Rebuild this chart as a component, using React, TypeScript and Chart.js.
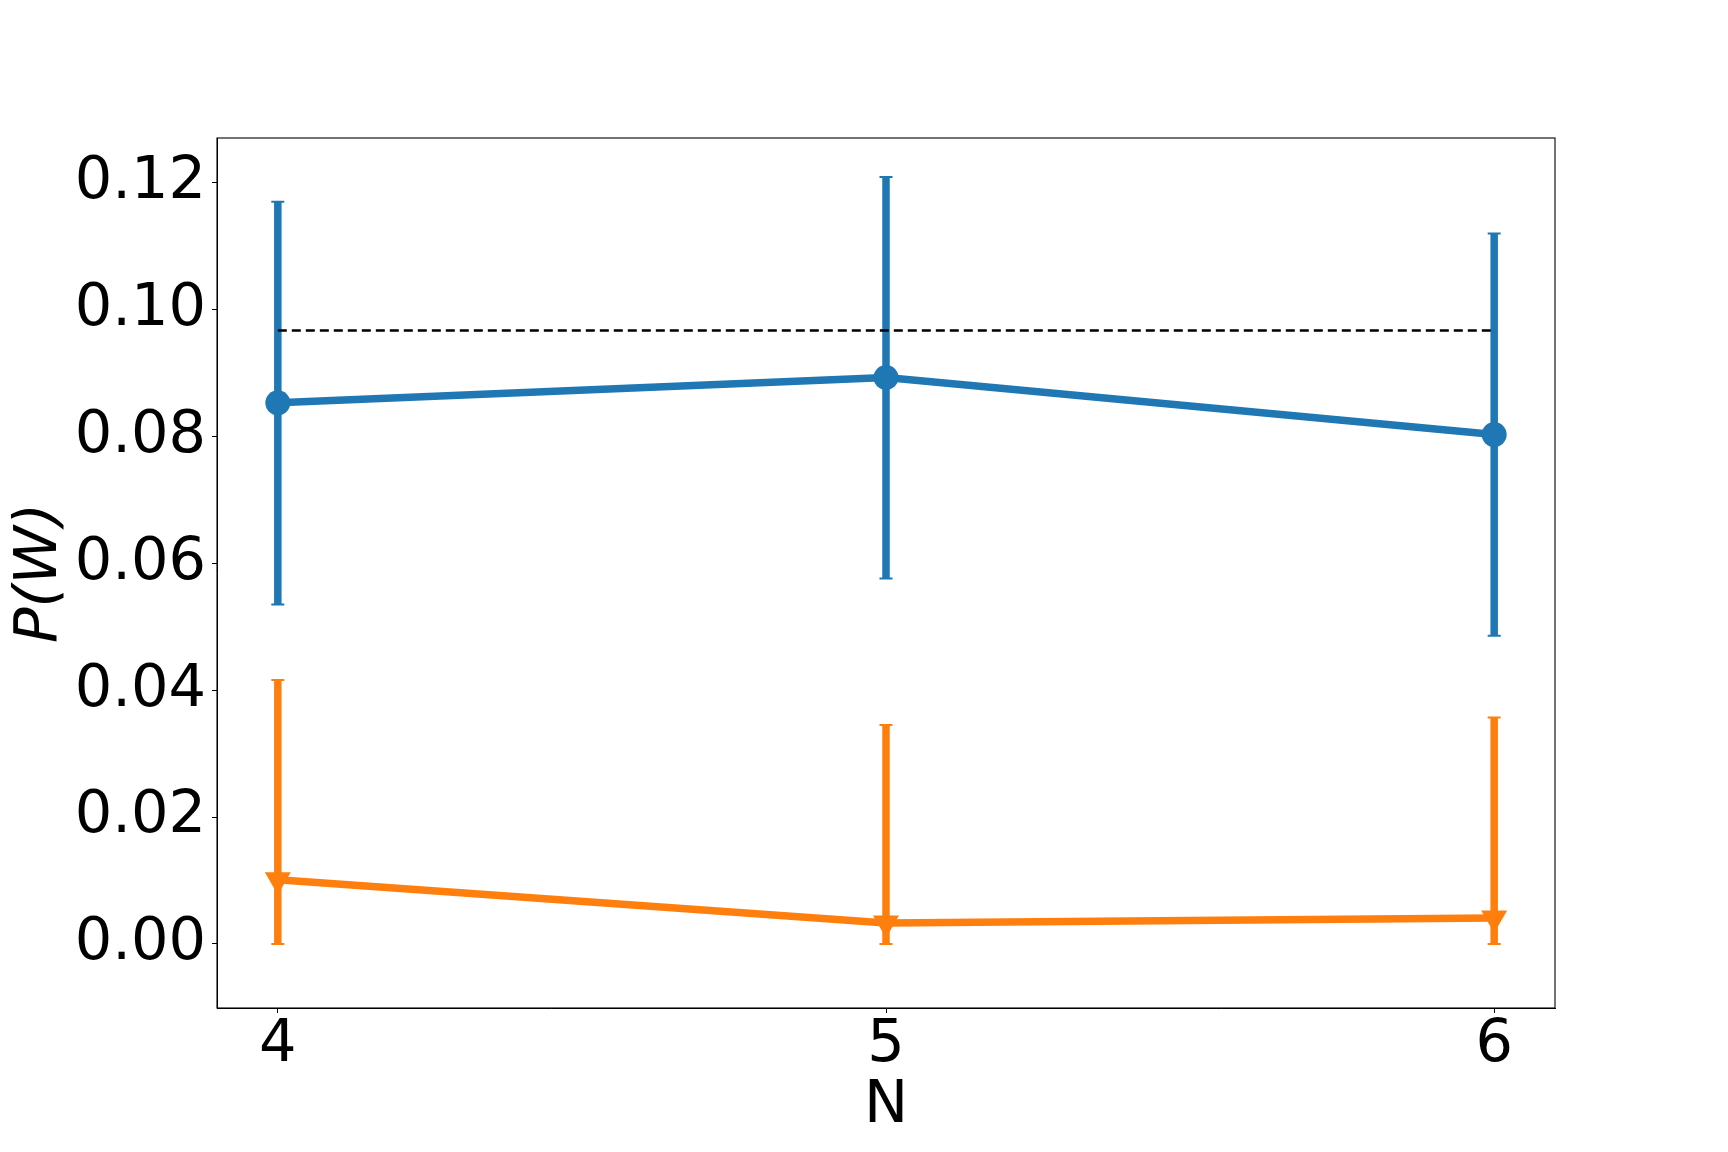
import React, { useEffect, useRef } from "react";
import { Chart, registerables } from "chart.js";

Chart.register(...registerables);

// ---- data ----
const nValues = [4, 5, 6];
const blueMean = [0.0853, 0.0893, 0.0803];
const blueLower = [0.0535, 0.0576, 0.0486];
const blueUpper = [0.117, 0.1209, 0.112];
const orangeMean = [0.0101, 0.0033, 0.0041];
const orangeLower = [0.0, 0.0, 0.0];
const orangeUpper = [0.0416, 0.0345, 0.0357];
const referenceLevel = 0.0967;
const xTickValues = [4, 5, 6];
const yTickValues = [0, 0.02, 0.04, 0.06, 0.08, 0.1, 0.12];
const xLabel = "N";
const yLabel = "P(W)";

const BLUE = "#1f77b4";
const ORANGE = "#ff7f0e";
const FONT = "'DejaVu Sans', sans-serif";

const errorBarPlugin = {
  id: "errorBars",
  beforeDatasetsDraw(chart: any) {
    const { ctx, scales } = chart;
    const x = scales.x;
    const y = scales.y;
    const draw = (lower: number[], upper: number[], color: string) => {
      ctx.save();
      ctx.strokeStyle = color;
      nValues.forEach((n, i) => {
        const px = x.getPixelForValue(n);
        const top = y.getPixelForValue(upper[i]);
        const bot = y.getPixelForValue(lower[i]);
        ctx.lineWidth = 7.5;
        ctx.lineCap = "butt";
        ctx.beginPath();
        ctx.moveTo(px, top);
        ctx.lineTo(px, bot);
        ctx.stroke();
        ctx.lineWidth = 2;
        ctx.beginPath();
        ctx.moveTo(px - 6.5, top);
        ctx.lineTo(px + 6.5, top);
        ctx.moveTo(px - 6.5, bot);
        ctx.lineTo(px + 6.5, bot);
        ctx.stroke();
      });
      ctx.restore();
    };
    draw(blueLower, blueUpper, BLUE);
    draw(orangeLower, orangeUpper, ORANGE);
  },
};

const framePlugin = {
  id: "frame",
  afterDraw(chart: any) {
    const { ctx, chartArea } = chart;
    ctx.save();
    ctx.strokeStyle = "#000";
    ctx.lineWidth = 1.1;
    ctx.strokeRect(
      chartArea.left,
      chartArea.top,
      chartArea.right - chartArea.left,
      chartArea.bottom - chartArea.top
    );
    ctx.restore();
  },
};

export default function App() {
  const canvasRef = useRef<HTMLCanvasElement | null>(null);

  useEffect(() => {
    const canvas = canvasRef.current;
    if (!canvas) return;
    const toPts = (vals: number[]) => nValues.map((n, i) => ({ x: n, y: vals[i] }));
    const chart = new Chart(canvas, {
      type: "line",
      data: {
        datasets: [
          {
            label: "reference",
            data: [
              { x: nValues[0], y: referenceLevel },
              { x: nValues[nValues.length - 1], y: referenceLevel },
            ],
            borderColor: "#000",
            borderWidth: 2.7,
            borderDash: [9, 5],
            pointRadius: 0,
            order: 0,
          },
          {
            label: "blue",
            data: toPts(blueMean),
            borderColor: BLUE,
            backgroundColor: BLUE,
            borderWidth: 7.5,
            pointRadius: 12.5,
            pointStyle: "circle",
            pointBorderWidth: 0,
            order: 2,
          },
          {
            label: "orange",
            data: toPts(orangeMean),
            borderColor: ORANGE,
            backgroundColor: ORANGE,
            borderWidth: 7.5,
            pointRadius: 15,
            pointStyle: "triangle",
            rotation: 180,
            pointBorderWidth: 0,
            order: 1,
          },
        ],
      },
      options: {
        responsive: false,
        animation: false,
        devicePixelRatio: 1,
        layout: { padding: { top: 138, right: 173, left: 0, bottom: 0 } },
        plugins: {
          legend: { display: false },
          tooltip: { enabled: false },
        },
        scales: {
          x: {
            type: "linear",
            min: 3.9,
            max: 6.1,
            afterBuildTicks: (scale: any) => {
              scale.ticks = xTickValues.map((v) => ({ value: v }));
            },
            afterFit: (scale: any) => {
              scale.height = 144;
            },
            grid: {
              display: true,
              drawOnChartArea: false,
              drawTicks: true,
              tickLength: 5,
              tickColor: "#000",
              tickWidth: 1,
            },
            border: { display: true, color: "#000", width: 1 },
            ticks: {
              color: "#000",
              padding: 3,
              maxRotation: 0,
              font: { family: FONT, size: 59, lineHeight: 1 },
              callback: (v: any) => String(v),
            },
            title: {
              display: true,
              text: xLabel,
              color: "#000",
              font: { family: FONT, size: 59, lineHeight: 1.2 },
              padding: { top: 0, bottom: 10 },
            },
          },
          y: {
            type: "linear",
            min: -0.0101,
            max: 0.12705,
            afterBuildTicks: (scale: any) => {
              scale.ticks = yTickValues.map((v) => ({ value: v }));
            },
            afterFit: (scale: any) => {
              scale.width = 217;
            },
            grid: {
              display: true,
              drawOnChartArea: false,
              drawTicks: true,
              tickLength: 5,
              tickColor: "#000",
              tickWidth: 1,
            },
            border: { display: true, color: "#000", width: 1 },
            ticks: {
              color: "#000",
              padding: 6,
              font: { family: FONT, size: 59, lineHeight: 1 },
              callback: (v: any) => Number(v).toFixed(2),
            },
            title: {
              display: true,
              text: yLabel,
              color: "#000",
              font: { family: FONT, size: 59, style: "italic", lineHeight: 1.2 },
              padding: { top: 5, bottom: 0 },
            },
          },
        },
      },
      plugins: [errorBarPlugin, framePlugin],
    } as any);
    return () => chart.destroy();
  }, []);

  return (
    <div style={{ position: "absolute", left: 0, top: 0, width: 1728, height: 1152, background: "#fff" }}>
      <canvas ref={canvasRef} width={1728} height={1152} style={{ display: "block" }} />
    </div>
  );
}
